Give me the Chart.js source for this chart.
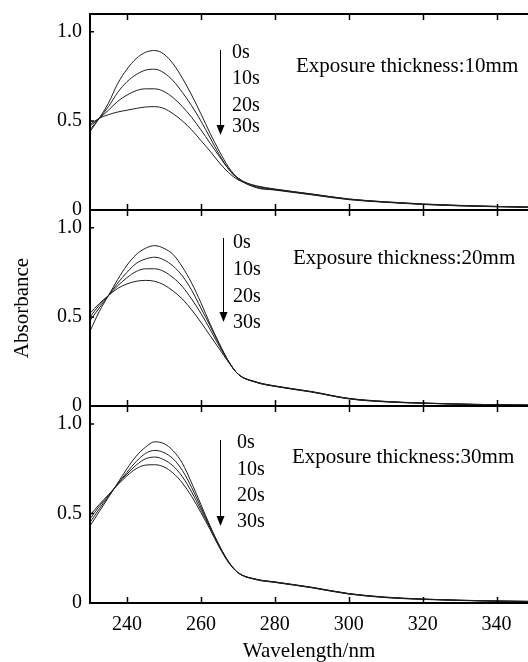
<!DOCTYPE html>
<html>
<head>
<meta charset="utf-8">
<script src="https://cdn.jsdelivr.net/npm/chart.js@4.4.0/dist/chart.umd.min.js"></script>
<style>
  body { margin: 0; background: #fff; }
  #wrap { position: relative; width: 528px; height: 662px; overflow: hidden; }
  .panel { position: absolute; left: 0; width: 528px; }
</style>
</head>
<body>
<div id="wrap">
  <div class="panel" style="top:-6px;height:236px"><canvas id="c1"></canvas></div>
  <div class="panel" style="top:190px;height:236px"><canvas id="c2"></canvas></div>
  <div class="panel" style="top:386px;height:276px"><canvas id="c3"></canvas></div>
</div>
<script>
// wavelength (nm) sample points
var wavelength = [230, 232.5, 235, 237.5, 240, 242.5, 245, 247.5, 250, 252.5, 255, 257.5, 260,
                  262.5, 265, 267.5, 270, 275, 280, 290, 300, 310, 320, 330, 340, 350];
var times = ['0s', '10s', '20s', '30s'];
var xTicks = [240, 260, 280, 300, 320, 340];
var yTicks = [0, 0.5, 1.0];
var yTickLabels = ['0', '0.5', '1.0'];

// exposure thickness 10mm
var abs10_0s  = [0.44, 0.515, 0.60, 0.71, 0.79, 0.85, 0.885, 0.895, 0.875, 0.82, 0.74, 0.645, 0.54, 0.43, 0.33, 0.24, 0.18, 0.125, 0.112, 0.085, 0.058, 0.043, 0.031, 0.023, 0.018, 0.014];
var abs10_10s = [0.45, 0.515, 0.58, 0.66, 0.72, 0.76, 0.785, 0.79, 0.77, 0.725, 0.66, 0.585, 0.50, 0.405, 0.31, 0.23, 0.175, 0.128, 0.114, 0.087, 0.060, 0.044, 0.032, 0.024, 0.019, 0.015];
var abs10_20s = [0.47, 0.515, 0.56, 0.61, 0.645, 0.67, 0.68, 0.68, 0.665, 0.63, 0.58, 0.52, 0.45, 0.375, 0.30, 0.23, 0.18, 0.133, 0.116, 0.089, 0.061, 0.045, 0.033, 0.025, 0.020, 0.016];
var abs10_30s = [0.48, 0.515, 0.535, 0.55, 0.56, 0.57, 0.578, 0.58, 0.57, 0.54, 0.50, 0.45, 0.39, 0.33, 0.265, 0.21, 0.17, 0.136, 0.118, 0.090, 0.062, 0.046, 0.034, 0.026, 0.020, 0.016];

// exposure thickness 20mm
var abs20_0s  = [0.42, 0.53, 0.62, 0.71, 0.79, 0.85, 0.885, 0.90, 0.885, 0.85, 0.78, 0.69, 0.58, 0.46, 0.35, 0.25, 0.18, 0.132, 0.110, 0.078, 0.040, 0.023, 0.015, 0.010, 0.006, 0.004];
var abs20_10s = [0.48, 0.55, 0.62, 0.69, 0.75, 0.80, 0.825, 0.835, 0.82, 0.785, 0.73, 0.65, 0.55, 0.45, 0.345, 0.25, 0.18, 0.133, 0.111, 0.079, 0.041, 0.024, 0.016, 0.010, 0.006, 0.004];
var abs20_20s = [0.50, 0.565, 0.62, 0.675, 0.72, 0.755, 0.77, 0.77, 0.755, 0.72, 0.67, 0.60, 0.52, 0.43, 0.335, 0.25, 0.18, 0.134, 0.112, 0.080, 0.042, 0.025, 0.016, 0.011, 0.007, 0.005];
var abs20_30s = [0.52, 0.575, 0.62, 0.66, 0.685, 0.70, 0.705, 0.70, 0.68, 0.645, 0.60, 0.54, 0.47, 0.395, 0.32, 0.245, 0.18, 0.135, 0.113, 0.081, 0.043, 0.026, 0.017, 0.011, 0.007, 0.005];

// exposure thickness 30mm
var abs30_0s  = [0.43, 0.51, 0.59, 0.67, 0.75, 0.82, 0.87, 0.90, 0.89, 0.85, 0.78, 0.67, 0.55, 0.43, 0.32, 0.23, 0.17, 0.130, 0.115, 0.085, 0.050, 0.030, 0.020, 0.014, 0.010, 0.008];
var abs30_10s = [0.45, 0.525, 0.595, 0.665, 0.73, 0.79, 0.835, 0.852, 0.84, 0.805, 0.74, 0.645, 0.535, 0.425, 0.32, 0.23, 0.17, 0.131, 0.116, 0.086, 0.051, 0.031, 0.021, 0.015, 0.010, 0.008];
var abs30_20s = [0.47, 0.54, 0.60, 0.665, 0.72, 0.77, 0.805, 0.815, 0.80, 0.765, 0.705, 0.62, 0.52, 0.42, 0.315, 0.23, 0.17, 0.132, 0.117, 0.087, 0.052, 0.032, 0.022, 0.015, 0.011, 0.009];
var abs30_30s = [0.49, 0.55, 0.605, 0.66, 0.71, 0.75, 0.77, 0.772, 0.76, 0.725, 0.67, 0.595, 0.505, 0.41, 0.31, 0.225, 0.17, 0.133, 0.118, 0.088, 0.053, 0.033, 0.022, 0.016, 0.011, 0.009];

Chart.defaults.font.family = "'Liberation Serif', 'Times New Roman', serif";
Chart.defaults.color = '#000';

var SERIF = "'Liberation Serif', 'Times New Roman', serif";

// frame, inward ticks, arrow and text labels
var framePlugin = {
  id: 'frame',
  afterDraw: function(chart, args, opts) {
    var ctx = chart.ctx, a = chart.chartArea;
    var xs = chart.scales.x, ys = chart.scales.y;
    ctx.save();
    ctx.strokeStyle = '#000';
    ctx.lineWidth = 2;
    ctx.beginPath();
    ctx.moveTo(a.right + 2, a.top);
    ctx.lineTo(a.left, a.top);
    ctx.lineTo(a.left, a.bottom);
    ctx.lineTo(a.right + 2, a.bottom);
    ctx.stroke();

    ctx.lineWidth = 1.5;
    ctx.beginPath();
    xTicks.forEach(function(v) {
      var px = Math.round(xs.getPixelForValue(v)) + 0.5;
      ctx.moveTo(px, a.top); ctx.lineTo(px, a.top + 6);
      ctx.moveTo(px, a.bottom); ctx.lineTo(px, a.bottom - 6);
    });
    yTicks.forEach(function(v) {
      var py = ys.getPixelForValue(v);
      ctx.moveTo(a.left, py); ctx.lineTo(a.left + 4, py);
    });
    ctx.stroke();

    // arrow
    var ax = a.left + opts.arrowX + 0.5;
    var t = a.top + opts.arrowTop, b = a.top + opts.arrowBottom;
    ctx.lineWidth = 1;
    ctx.beginPath();
    ctx.moveTo(ax, t); ctx.lineTo(ax, b - 8);
    ctx.stroke();
    ctx.fillStyle = '#000';
    ctx.beginPath();
    ctx.moveTo(ax - 4, b - 10); ctx.lineTo(ax + 4, b - 10); ctx.lineTo(ax, b);
    ctx.closePath();
    ctx.fill();

    ctx.textBaseline = 'middle';
    ctx.textAlign = 'left';
    ctx.font = '20px ' + SERIF;
    times.forEach(function(s, i) {
      ctx.fillText(s, a.left + opts.labelX, a.top + opts.labelY[i]);
    });
    ctx.font = '21px ' + SERIF;
    ctx.fillText(opts.note, a.left + opts.noteX, a.top + opts.noteY);
    ctx.restore();
  }
};

function series(arr) {
  return {
    data: wavelength.map(function(w, i) { return { x: w, y: arr[i] }; }),
    borderColor: '#1e1e1e',
    borderWidth: 1,
    pointRadius: 0,
    fill: false,
    cubicInterpolationMode: 'monotone'
  };
}

function makeChart(canvasId, arrays, note, bottom, middle) {
  var ctx = document.getElementById(canvasId);
  return new Chart(ctx, {
    type: 'line',
    data: { datasets: arrays.map(series) },
    plugins: [framePlugin],
    options: {
      responsive: true,
      maintainAspectRatio: false,
      animation: false,
      events: [],
      layout: { padding: { top: 20, bottom: bottom ? 0 : 20, left: 0, right: 0 } },
      scales: {
        x: {
          type: 'linear',
          min: 230,
          max: 348.5,
          display: bottom,
          afterBuildTicks: function(scale) {
            scale.ticks = xTicks.map(function(v) { return { value: v }; });
          },
          afterFit: function(scale) { if (bottom) scale.height = 59; },
          grid: { drawOnChartArea: false, drawTicks: false },
          border: { display: false },
          ticks: {
            autoSkip: false,
            maxRotation: 0,
            padding: 10,
            font: { size: 20 },
            callback: function(v) { return String(v); }
          },
          title: {
            display: true,
            text: 'Wavelength/nm',
            font: { size: 21, lineHeight: 1 },
            padding: { top: 0, bottom: 0 }
          }
        },
        y: {
          min: 0,
          max: 1.1,
          afterBuildTicks: function(scale) {
            scale.ticks = yTicks.map(function(v) { return { value: v }; });
          },
          afterFit: function(scale) { scale.width = 90; },
          grid: { drawOnChartArea: false, drawTicks: false },
          border: { display: false },
          ticks: {
            autoSkip: false,
            padding: 8,
            font: { size: 20 },
            callback: function(v, i) { return yTickLabels[i]; }
          },
          title: {
            display: middle,
            text: 'Absorbance',
            font: { size: 21 },
            padding: { top: 10, bottom: 0 }
          }
        }
      },
      plugins: {
        legend: { display: false },
        tooltip: { enabled: false },
        frame: note
      }
    }
  });
}

makeChart('c1', [abs10_0s, abs10_10s, abs10_20s, abs10_30s], {
  note: 'Exposure thickness:10mm', noteX: 206, noteY: 52,
  arrowX: 130, arrowTop: 36, arrowBottom: 121,
  labelX: 142, labelY: [39, 65, 92, 113]
}, false, false);

makeChart('c2', [abs20_0s, abs20_10s, abs20_20s, abs20_30s], {
  note: 'Exposure thickness:20mm', noteX: 203, noteY: 48,
  arrowX: 133, arrowTop: 28, arrowBottom: 112,
  labelX: 143, labelY: [33, 60, 87, 113]
}, false, true);

makeChart('c3', [abs30_0s, abs30_10s, abs30_20s, abs30_30s], {
  note: 'Exposure thickness:30mm', noteX: 202, noteY: 51,
  arrowX: 130, arrowTop: 34, arrowBottom: 120,
  labelX: 147, labelY: [37, 64, 90, 116]
}, true, false);
</script>
</body>
</html>
